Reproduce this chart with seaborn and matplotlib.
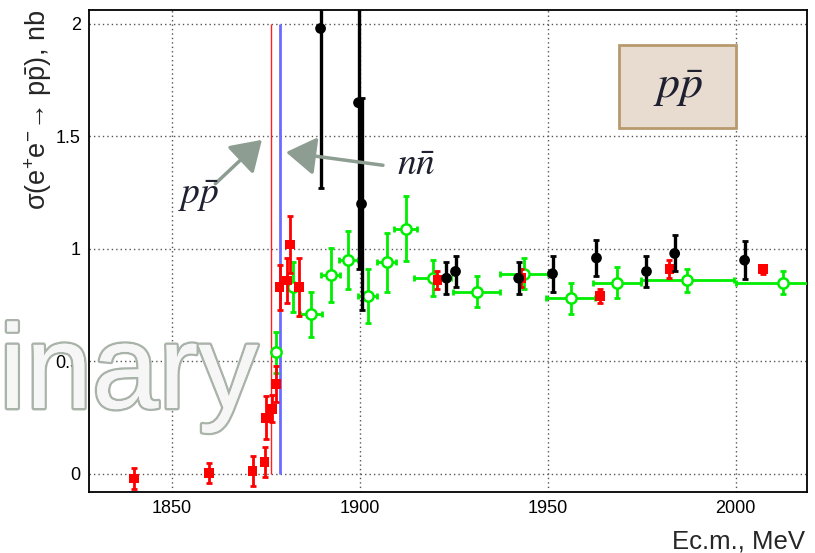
import matplotlib
matplotlib.use("Agg")
import matplotlib.pyplot as plt
import matplotlib.patheffects as pe
from matplotlib.patches import Rectangle
from matplotlib.ticker import MultipleLocator
import seaborn as sns
import numpy as np

# ---------------- data ----------------
red_x = [1840.0, 1860.0, 1871.5, 1874.7, 1875.0, 1876.6, 1877.7, 1878.7, 1880.6, 1881.5, 1883.8,
         1920.7, 1943.0, 1964.0, 1982.4, 2007.2]
red_y = [-0.02, 0.005, 0.013, 0.053, 0.25, 0.29, 0.40, 0.83, 0.86, 1.02, 0.83,
         0.862, 0.87, 0.79, 0.91, 0.91]
red_err = [0.048, 0.045, 0.065, 0.065, 0.095, 0.06, 0.08, 0.10, 0.10, 0.125, 0.13,
           0.04, 0.04, 0.03, 0.04, 0.02]

blk_x = [1889.6, 1899.7, 1900.5, 1923.1, 1925.5, 1942.3, 1951.3, 1963.0, 1976.3, 1983.8, 2002.4]
blk_y = [1.98, 1.65, 1.20, 0.87, 0.90, 0.87, 0.89, 0.96, 0.90, 0.98, 0.95]
blk_err = [0.71, 0.74, 0.47, 0.07, 0.07, 0.07, 0.08, 0.08, 0.07, 0.08, 0.085]

grn_x = [1877.7, 1882.2, 1887.0, 1892.3, 1897.0, 1902.1, 1907.2, 1912.2, 1919.4,
         1931.1, 1943.6, 1956.1, 1968.4, 1987.2, 2012.5]
grn_y = [0.54, 0.83, 0.71, 0.885, 0.95, 0.79, 0.94, 1.09, 0.87,
         0.81, 0.89, 0.78, 0.85, 0.86, 0.85]
grn_yerr = [0.09, 0.11, 0.10, 0.12, 0.13, 0.12, 0.13, 0.145, 0.08,
            0.07, 0.07, 0.07, 0.07, 0.05, 0.05]
grn_xerr = [0.5, 0.5, 3.0, 2.5, 2.5, 2.5, 2.5, 3.0, 5.0,
            6.2, 6.4, 6.4, 6.4, 12.4, 12.5]

thr_pp = 1876.5
thr_nn = 1878.9
thr_top = 2.0

x_ticks = [1850, 1900, 1950, 2000]
y_ticks = [0, 0.5, 1, 1.5, 2]
y_tick_labels = ["0", "0.5", "1", "1.5", "2"]

# ---------------- style ----------------
sns.set_theme(style="white")
plt.rcParams['font.family'] = ['Liberation Sans', 'DejaVu Sans']
plt.rcParams['mathtext.fontset'] = 'custom'
plt.rcParams['mathtext.rm'] = 'Liberation Sans'
plt.rcParams['mathtext.it'] = 'Liberation Sans:italic'

fig = plt.figure(figsize=(8.15, 5.53), dpi=100)
ax = fig.add_axes([89/815, 1-492/553, (807-89)/815, (492-10)/553])

ax.set_xlim(1828, 2019)
ax.set_ylim(-0.08, 2.062)

# grid
ax.set_xticks(x_ticks)
ax.set_yticks(y_ticks)
ax.set_yticklabels(y_tick_labels)
ax.xaxis.set_minor_locator(MultipleLocator(10))
ax.yaxis.set_minor_locator(MultipleLocator(0.1))
ax.grid(True, which='major', color='#555555', linestyle=(0, (1, 2.2)), linewidth=1.0)
ax.set_axisbelow(True)
ax.tick_params(axis='both', which='major', direction='in', length=9, width=1.2,
               labelsize=13, colors='black', pad=6)
ax.tick_params(axis='both', which='minor', direction='in', length=5, width=1.0, colors='black')
ax.tick_params(top=False, right=False, which='both')
for s in ax.spines.values():
    s.set_color('black')
    s.set_linewidth(1.3)

# threshold lines
ax.vlines([thr_pp], 0, thr_top, color='#ff2020', linewidth=1.0, zorder=2)
ax.vlines([thr_nn], 0, thr_top, color='#6b6bff', linewidth=2.0, zorder=2)

# green (open circles with x and y errors)
ax.errorbar(grn_x, grn_y, xerr=grn_xerr, yerr=grn_yerr, fmt='none', ecolor='#00ee00',
            elinewidth=2.0, capsize=2.5, capthick=2.0, zorder=3)
sns.scatterplot(x=grn_x, y=grn_y, marker='o', s=55, color='white', edgecolor='#00ee00',
                linewidth=1.8, ax=ax, zorder=4)

# red squares
ax.errorbar(red_x, red_y, yerr=red_err, fmt='none', ecolor='#ff0000',
            elinewidth=2.0, capsize=2.5, capthick=2.0, zorder=5)
sns.scatterplot(x=red_x, y=red_y, marker='s', s=50, color='#ff0000', edgecolor='none',
                linewidth=0, ax=ax, zorder=6)

# black circles
ax.errorbar(blk_x, blk_y, yerr=blk_err, fmt='none', ecolor='black',
            elinewidth=2.4, capsize=2.5, capthick=2.0, zorder=7)
sns.scatterplot(x=blk_x, y=blk_y, marker='o', s=60, color='black', edgecolor='none',
                linewidth=0, ax=ax, zorder=8)

# arrows and labels
arrow_col = '#8d9d92'
ax.annotate('', xy=(1874.0, 1.485), xytext=(1861.6, 1.29),
            arrowprops=dict(arrowstyle='-|>,head_length=0.7,head_width=0.45', color=arrow_col,
                            lw=2.5, mutation_scale=26, shrinkA=0, shrinkB=0), zorder=9)
ax.annotate('', xy=(1880.4, 1.43), xytext=(1906.2, 1.372),
            arrowprops=dict(arrowstyle='-|>,head_length=0.7,head_width=0.45', color=arrow_col,
                            lw=2.5, mutation_scale=26, shrinkA=0, shrinkB=0), zorder=9)
ax.text(1857.3, 1.235, r'$p\bar{p}$', fontsize=27, ha='center', va='center',
        math_fontfamily='stix', color='#1e2030', zorder=10)
ax.text(1915.0, 1.375, r'$n\bar{n}$', fontsize=27, ha='center', va='center',
        math_fontfamily='stix', color='#1e2030', zorder=10)

# box with label
ax.add_patch(Rectangle((1969.1, 1.538), 31.1, 0.369, facecolor='#e8dcd1',
                       edgecolor='#b8996e', linewidth=2.0, zorder=9))
ax.text(1984.65, 1.72, r'$p\bar{p}$', fontsize=33, ha='center', va='center',
        math_fontfamily='stix', color='#1e2030', zorder=10)

ax.set_xlabel('')
ax.set_ylabel('')

# axis titles
ax.text(-0.071, 1.0, 'σ(e$^{+}$e$^{-}$→ p$\\bar{\\mathrm{p}}$), nb',
        transform=ax.transAxes, rotation=90, ha='center', va='top', fontsize=19.5)
fig.text(805/815, 1-548/553, 'Ec.m., MeV', ha='right', va='baseline', fontsize=18.5)

# watermark
wm = fig.text(258/815, 1-408/553, 'inary', ha='right', va='baseline', fontsize=86,
              color='#f6f6f6', zorder=20)
wm.set_path_effects([pe.withStroke(linewidth=3.5, foreground='#aab3aa'),
                     pe.Normal()])

fig.savefig('out.png', dpi=100)
